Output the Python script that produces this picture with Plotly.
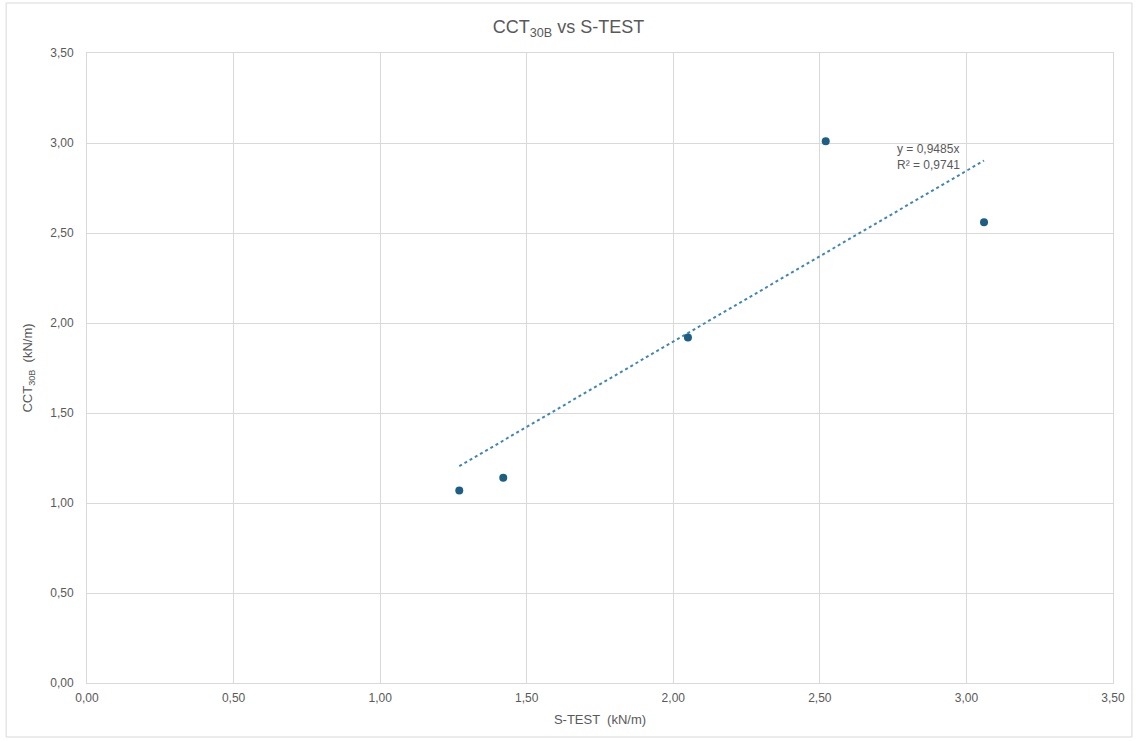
import plotly.graph_objects as go

# dados
s_test = [1.27, 1.42, 2.05, 2.52, 3.06]
cct_30b = [1.07, 1.14, 1.92, 3.01, 2.56]
slope = 0.9485
r2 = 0.9741
tick_vals = [0, 0.5, 1.0, 1.5, 2.0, 2.5, 3.0, 3.5]

# linha de tendência (ajuste linear pela origem)
x_trend = [min(s_test), max(s_test)]
y_trend = [slope * v for v in x_trend]

fig = go.Figure()

fig.add_trace(go.Scatter(
    x=x_trend, y=y_trend, mode='lines',
    line=dict(color='#3f86b3', width=2, dash='dot'),
    hoverinfo='skip', showlegend=False
))

fig.add_trace(go.Scatter(
    x=s_test, y=cct_30b, mode='markers',
    marker=dict(color='#1d5e84', size=8),
    showlegend=False
))

fig.add_annotation(
    x=2.755, y=2.92, xref='x', yref='y',
    text=f"y = {slope:.4f}x<br>R² = {r2:.4f}".replace('.', ','),
    showarrow=False, xanchor='left', yanchor='middle', align='left',
    font=dict(size=12, color='#595959')
)

axis_style = dict(
    range=[0, 3.5], tickvals=tick_vals, tickformat='.2f',
    showgrid=True, gridcolor='#d9d9d9', gridwidth=1,
    showline=True, linecolor='#d9d9d9', mirror=True,
    zeroline=False, ticks='', tickfont=dict(size=12, color='#595959'),
)

fig.update_xaxes(**axis_style, ticklabelstandoff=4,
                 title=dict(text='S-TEST  (kN/m)', font=dict(size=13, color='#595959'), standoff=10))
fig.update_yaxes(**axis_style, ticklabelstandoff=10,
                 title=dict(text='CCT<sub>30B</sub>  (kN/m)', font=dict(size=13, color='#595959'), standoff=14))

# borda externa do gráfico
fig.add_shape(type='rect', xref='paper', yref='paper',
              x0=-81 / 1028, x1=1 + 19 / 1028, y0=-54 / 630, y1=1 + 50 / 630,
              line=dict(color='#d9d9d9', width=1))

fig.update_layout(
    title=dict(text='CCT<sub>30B</sub> vs S-TEST', x=0.5, xanchor='center', y=0.972,
               font=dict(size=18, color='#595959')),
    separators=',.',
    width=1137, height=741,
    margin=dict(l=87, r=22, t=53, b=58),
    plot_bgcolor='white', paper_bgcolor='white',
    font=dict(family='Liberation Sans, Arial, sans-serif', color='#595959'),
)

fig.write_html("out.html", config={'displayModeBar': False},
               post_script="document.body.style.margin='0';")
